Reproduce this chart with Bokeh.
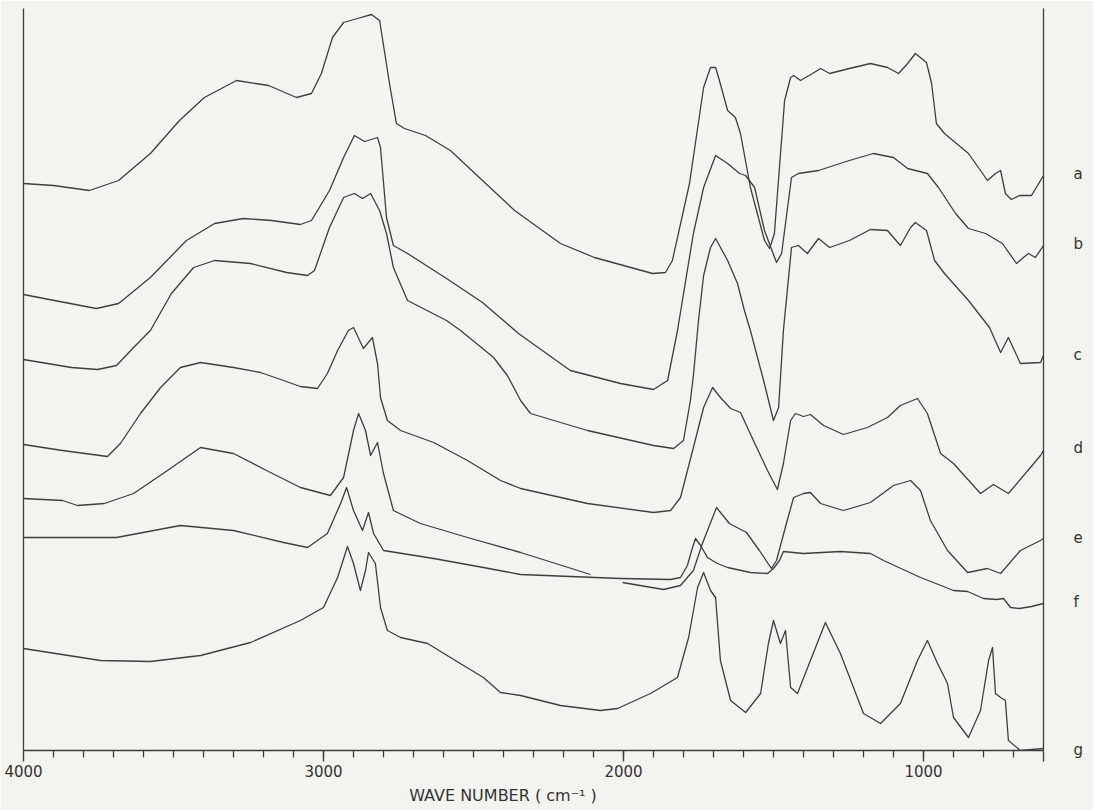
from bokeh.plotting import figure
from bokeh.models import Range1d, FixedTicker, LinearAxis
from bokeh.embed import file_html
from bokeh.resources import INLINE

# ---- data: wave number (cm-1) and signal (chart units, larger = lower on chart)
A_WN = [4000,3900,3780,3683,3577,3480,3397,3290,3183,3090,3040,3007,2970,2933,2887,2840,2813,2780,2757,2730,
        2660,2577,2470,2363,2210,2097,1903,1860,1837,1780,1733,1710,1693,1683,1653,1627,1610,1577,1530,1513,
        1497,1463,1443,1433,1410,1370,1343,1313,1247,1177,1120,1083,1053,1027,990,973,957,930,850,810,
        787,760,743,727,707,680,640,600]
A_T = [183,185,190,180,153,120,97,80,85,97,93,73,37,22,18,14,20,83,123,128,
       135,150,180,210,243,257,273,272,260,183,87,67,67,77,110,117,133,187,240,248,
       233,100,77,75,80,73,68,73,68,63,67,73,63,53,62,83,123,133,153,170,
       180,173,170,193,199,195,195,175]

B_WN = [4000,3897,3757,3683,3577,3457,3363,3267,3173,3077,3040,2980,2933,2897,2863,2820,2810,2790,2767,2720,
        2590,2470,2350,2210,2177,2010,1900,1853,1820,1767,1733,1693,1653,1613,1593,1563,1530,1490,1473,1440,
        1417,1350,1247,1167,1100,1053,987,950,893,850,793,737,690,667,650,627,600]
B_T = [294,300,308,303,277,240,223,218,220,224,220,190,157,135,141,137,147,217,245,253,
       278,302,333,363,370,383,389,380,330,233,187,155,163,173,175,187,230,262,253,177,
       173,170,160,153,157,168,173,187,213,228,233,243,263,257,253,257,245]

C_WN = [4000,3840,3753,3690,3633,3577,3507,3433,3363,3243,3123,3053,3030,2980,2933,2897,2870,2843,2813,2790,
        2767,2720,2590,2543,2433,2387,2343,2310,2120,1900,1833,1800,1777,1767,1750,1733,1710,1693,1653,1620,
        1597,1577,1533,1500,1483,1467,1440,1417,1387,1350,1313,1247,1177,1120,1077,1043,1027,990,963,930,
        850,780,743,717,677,610,600]
C_T = [359,367,369,365,347,330,293,267,260,263,272,275,270,227,197,193,198,193,210,233,
       267,300,320,330,357,375,400,413,430,445,448,440,400,375,320,275,247,238,260,283,
       310,330,380,420,407,330,247,245,253,238,247,240,229,230,245,227,222,230,260,273,
       300,327,352,337,363,362,355]

D_WN = [4000,3870,3720,3677,3610,3543,3477,3410,3300,3210,3133,3077,3020,2987,2953,2917,2900,2867,2837,2820,
        2810,2787,2743,2633,2520,2410,2343,2120,1900,1843,1810,1767,1733,1703,1677,1643,1610,1567,1520,1487,
        1467,1443,1427,1400,1377,1333,1267,1187,1120,1077,1020,987,943,900,810,767,717,610,600]
D_T = [444,450,456,443,413,387,367,362,367,372,380,386,388,373,350,330,327,348,337,363,
       397,420,430,442,460,480,488,503,512,510,497,447,407,387,397,408,412,440,470,489,
       463,420,413,416,414,425,434,427,417,405,398,413,453,463,493,484,493,455,450]

E1_WN = [4000,3870,3820,3730,3633,3520,3410,3300,3190,3077,2977,2933,2900,2883,2860,2843,2820,2800,2767,2677,
         2520,2343,2110]
E1_T = [498,500,505,503,493,470,447,453,470,487,495,477,430,413,430,455,442,473,510,523,
        537,552,574]
E2_WN = [2003,1867,1810,1767,1737,1690,1647,1590,1547,1507,1490,1457,1433,1400,1377,1343,1267,1177,1100,1043,
         1010,977,920,853,787,743,677,610,600]
E2_T = [582,589,585,570,543,507,523,532,550,568,560,523,497,493,492,503,510,502,485,480,
        490,520,550,572,568,573,550,540,538]

F_WN = [4000,3690,3477,3300,3133,3053,2987,2943,2923,2900,2870,2850,2833,2800,2633,2467,2343,2010,1843,1810,
        1787,1773,1760,1743,1720,1687,1653,1577,1520,1500,1480,1467,1400,1277,1177,1133,1010,967,900,853,
        800,757,733,710,680,640,600]
F_T = [537,537,525,530,542,547,533,503,487,510,530,512,533,550,558,567,574,578,579,577,
       565,550,538,545,557,563,567,572,573,568,560,551,553,551,553,560,577,582,590,591,
       598,599,598,607,608,606,603]

G_WN = [4000,3743,3577,3410,3243,3077,3000,2953,2920,2900,2877,2860,2850,2827,2810,2787,2743,2653,2577,2467,
        2410,2343,2210,2077,2020,1910,1820,1783,1753,1733,1710,1693,1677,1643,1593,1543,1517,1500,1477,1460,
        1443,1420,1377,1327,1277,1200,1143,1077,1020,987,953,920,900,850,810,783,770,760,743,727,
        717,677,600]
G_T = [648,660,661,655,642,620,607,577,546,563,590,570,552,563,607,630,637,643,657,677,
       692,695,705,710,708,693,677,637,587,572,590,597,660,700,712,693,643,620,643,630,
       687,693,660,622,653,713,723,703,660,640,663,683,717,737,710,660,647,693,697,700,
       740,750,748]

CURVE_NAMES = ["a", "b", "c", "d", "e", "f", "g"]
LABEL_LEVELS = [173, 243, 354, 447, 537, 601, 749]
MAJOR_TICKS = [4000, 3000, 2000, 1000, 600]
MINOR_TICKS = list(range(700, 4000, 100))

BG = "#f3f4f0"
INK = "#3a3f3f"
FONT = "DejaVu Sans"

p = figure(width=1093, height=810,
           x_range=Range1d(4000, 600), y_range=Range1d(750, 8),
           output_backend="svg", toolbar_location=None,
           min_border_left=23, min_border_right=50,
           min_border_top=8, min_border_bottom=60)
p.outline_line_color = None
p.grid.visible = False
p.background_fill_color = BG
p.border_fill_color = BG

series = [(A_WN, A_T), (B_WN, B_T), (C_WN, C_T), (D_WN, D_T),
          (E1_WN, E1_T), (E2_WN, E2_T), (F_WN, F_T), (G_WN, G_T)]
for wn, t in series:
    p.line(wn, t, line_color=INK, line_width=1.3, line_join="round")

# bottom axis
xa = p.xaxis[0]
xa.ticker = FixedTicker(ticks=MAJOR_TICKS, minor_ticks=MINOR_TICKS)
xa.major_label_overrides = {600: ""}
xa.axis_line_color = INK
xa.axis_line_width = 1.3
xa.major_tick_line_color = INK
xa.major_tick_line_width = 1.4
xa.minor_tick_line_color = INK
xa.minor_tick_line_width = 1.3
xa.major_tick_out = 11
xa.major_tick_in = 0
xa.minor_tick_out = 7
xa.minor_tick_in = 0
xa.major_label_standoff = 3
xa.major_label_text_font = FONT
xa.major_label_text_font_size = "15px"
xa.major_label_text_color = "#333333"
xa.axis_label = "WAVE NUMBER  ( cm\u207b\u00b9 )" + "\u00a0" * 11
xa.axis_label_standoff = 6
xa.axis_label_text_font = FONT
xa.axis_label_text_font_size = "16px"
xa.axis_label_text_font_style = "normal"
xa.axis_label_text_color = "#333333"

# left axis: plain line
ya = p.yaxis[0]
ya.ticker = FixedTicker(ticks=[])
ya.axis_line_color = INK
ya.axis_line_width = 1.3
ya.major_tick_line_color = None
ya.minor_tick_line_color = None
ya.major_label_standoff = 0
ya.major_label_text_font_size = "0px"

# right axis: line with curve letters
ra = LinearAxis(ticker=FixedTicker(ticks=LABEL_LEVELS),
                major_label_overrides={lv: nm for lv, nm in zip(LABEL_LEVELS, CURVE_NAMES)})
ra.axis_line_color = INK
ra.axis_line_width = 1.3
ra.major_tick_line_color = None
ra.minor_tick_line_color = None
ra.major_tick_out = 0
ra.major_tick_in = 0
ra.major_label_standoff = 30
ra.major_label_text_font = FONT
ra.major_label_text_font_size = "15px"
ra.major_label_text_color = "#333333"
p.add_layout(ra, "right")

open("out.html", "w").write(file_html(p, INLINE))
